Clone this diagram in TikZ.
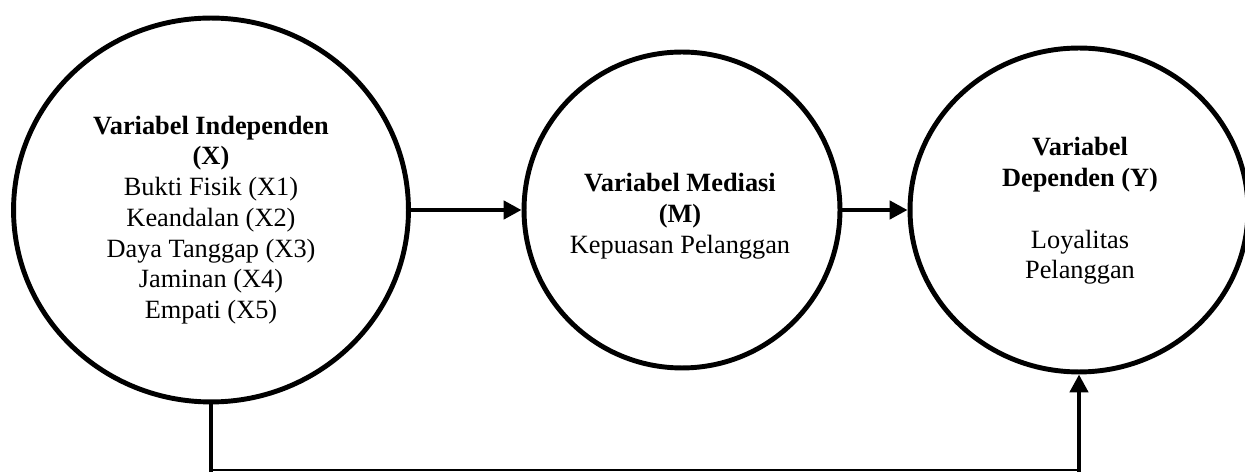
\documentclass[tikz,border=0pt]{standalone}
\usepackage{fontspec}
\setmainfont{Liberation Serif}
\usetikzlibrary{arrows.meta}
\usetikzlibrary{shapes.geometric}

\begin{document}
\begin{tikzpicture}[x=0.02cm,y=-0.02cm,
	varcircle/.style={draw,ellipse,line width=2.8pt,inner sep=0pt},
	vartext/.style={align=center,font=\fontsize{15}{17.5}\selectfont},
	thickarrow/.style={line width=2.8pt,-{Triangle[length=0.36cm,width=0.36cm]}}]
\useasboundingbox (0,0) rectangle (1245,472);
	% the three variables
	\node[varcircle,minimum width=7.9cm,minimum height=7.68cm] (X) at (211,210) {};
	\node[varcircle,minimum width=6.32cm,minimum height=6.32cm] (M) at (682,210) {};
	\node[varcircle,minimum width=6.76cm,minimum height=6.48cm] (Y) at (1079,210) {};
	\node[vartext] (Xtxt) at (211,220) {\textbf{Variabel Independen}\\\textbf{(X)}\\Bukti Fisik (X1)\\Keandalan (X2)\\Daya Tanggap (X3)\\Jaminan (X4)\\Empati (X5)};
	\node[vartext] (Mtxt) at (680,216) {\textbf{Variabel Mediasi}\\\textbf{(M)}\\Kepuasan Pelanggan};
	\node[vartext] (Ytxt) at (1080,211) {\textbf{Variabel}\\\textbf{Dependen (Y)}\\[17.5pt]Loyalitas\\Pelanggan};
	% direct path X -> M -> Y
	\draw[thickarrow] (X.east) -- (M.west);
	\draw[thickarrow] (M.east) -- (Y.west);
	% path X -> Y below
	\coordinate (c1) at (211,470);
	\coordinate (c2) at (1079,470);
	\draw[line width=2.8pt] (X.south) -- ([yshift=-1.4pt]c1);
	\draw[line width=0.8pt] (c1) -- (c2);
	\draw[thickarrow] ([yshift=-1.4pt]c2) -- (Y.south);
\end{tikzpicture}
\end{document}
